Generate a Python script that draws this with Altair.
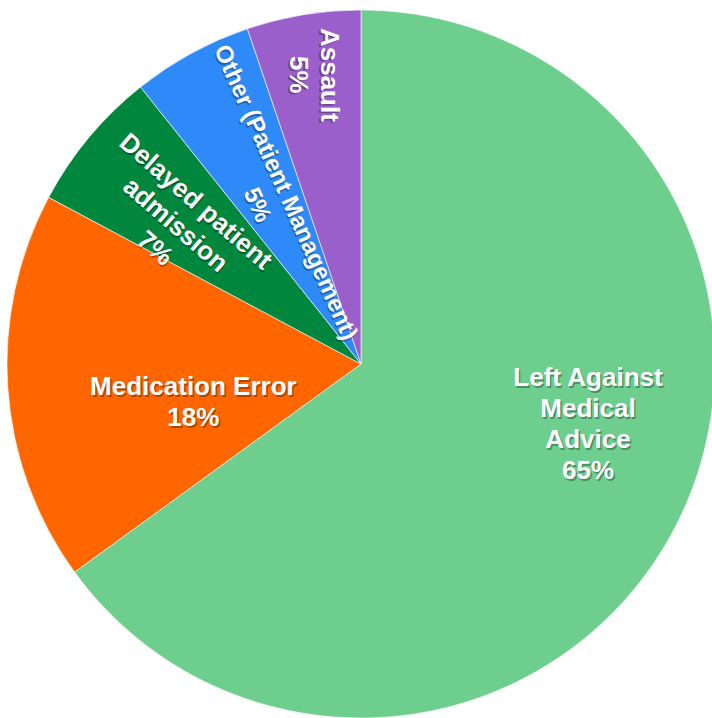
import math
import altair as alt
import pandas as pd

# ---- data ----
categories = [
    "Left Against Medical Advice",
    "Medication Error",
    "Delayed patient admission",
    "Other (Patient Management)",
    "Assault",
]
values = [65.0, 17.8, 6.5, 5.5, 5.2]
label_names = [
    "Left Against\nMedical\nAdvice",
    "Medication Error",
    "Delayed patient\nadmission",
    "Other (Patient Management)",
    "Assault",
]
pct_labels = ["65%", "18%", "7%", "5%", "5%"]
colors = ["#6DCE8E", "#FF6600", "#00873D", "#2E8AF8", "#9B5FCB"]

df = pd.DataFrame({
    "category": categories,
    "value": values,
    "label": [f"{n}\n{p}" for n, p in zip(label_names, pct_labels)],
    "idx": list(range(len(categories))),
})

CX, CY, R = 361, 364, 354
LH = 31

base = alt.Chart(df).encode(
    theta=alt.Theta("value:Q", stack=True),
    order=alt.Order("idx:Q", sort="ascending"),
    x=alt.value(CX),
    y=alt.value(CY),
)

pie = base.mark_arc(radius=R, stroke="white", strokeWidth=0.6).encode(
    color=alt.Color("category:N",
                    scale=alt.Scale(domain=categories, range=colors),
                    legend=None)
)

# label styling: (radius, theta offset in degrees, rotation, font size)
label_style = [
    (235, -12, 0, 26),
    (172, -9, 0, 26),
    (232, -3, 41, 26),
    (188, 0, 66, 24),
    (293, 0, 90, 26),
]

layers = [pie]
for i, (r, off, ang, fs) in enumerate(label_style):
    n_lines = label_names[i].count("\n") + 2
    shift = -(n_lines - 1) * LH / 2
    common = dict(
        radius=r,
        thetaOffset=math.radians(off),
        angle=ang,
        fontSize=fs,
        font="Liberation Sans",
        fontWeight="bold",
        lineBreak="\n",
        lineHeight=LH,
        align="center",
        baseline="middle",
    )
    t = base.transform_calculate(t=f"datum.idx == {i} ? datum.label : ''")
    shadow = t.mark_text(fill="#000000", opacity=0.3, dx=1.5, dy=shift + 1.5,
                         **common).encode(text=alt.Text("t:N"))
    txt = t.mark_text(fill="white", dy=shift, **common).encode(text=alt.Text("t:N"))
    layers += [shadow, txt]

chart = alt.layer(*layers).properties(
    width=712, height=718, padding=0, autosize=alt.AutoSizeParams(type="none")
).configure_view(stroke=None)

chart.save("out.html", embed_options={"renderer": "svg", "actions": False})
